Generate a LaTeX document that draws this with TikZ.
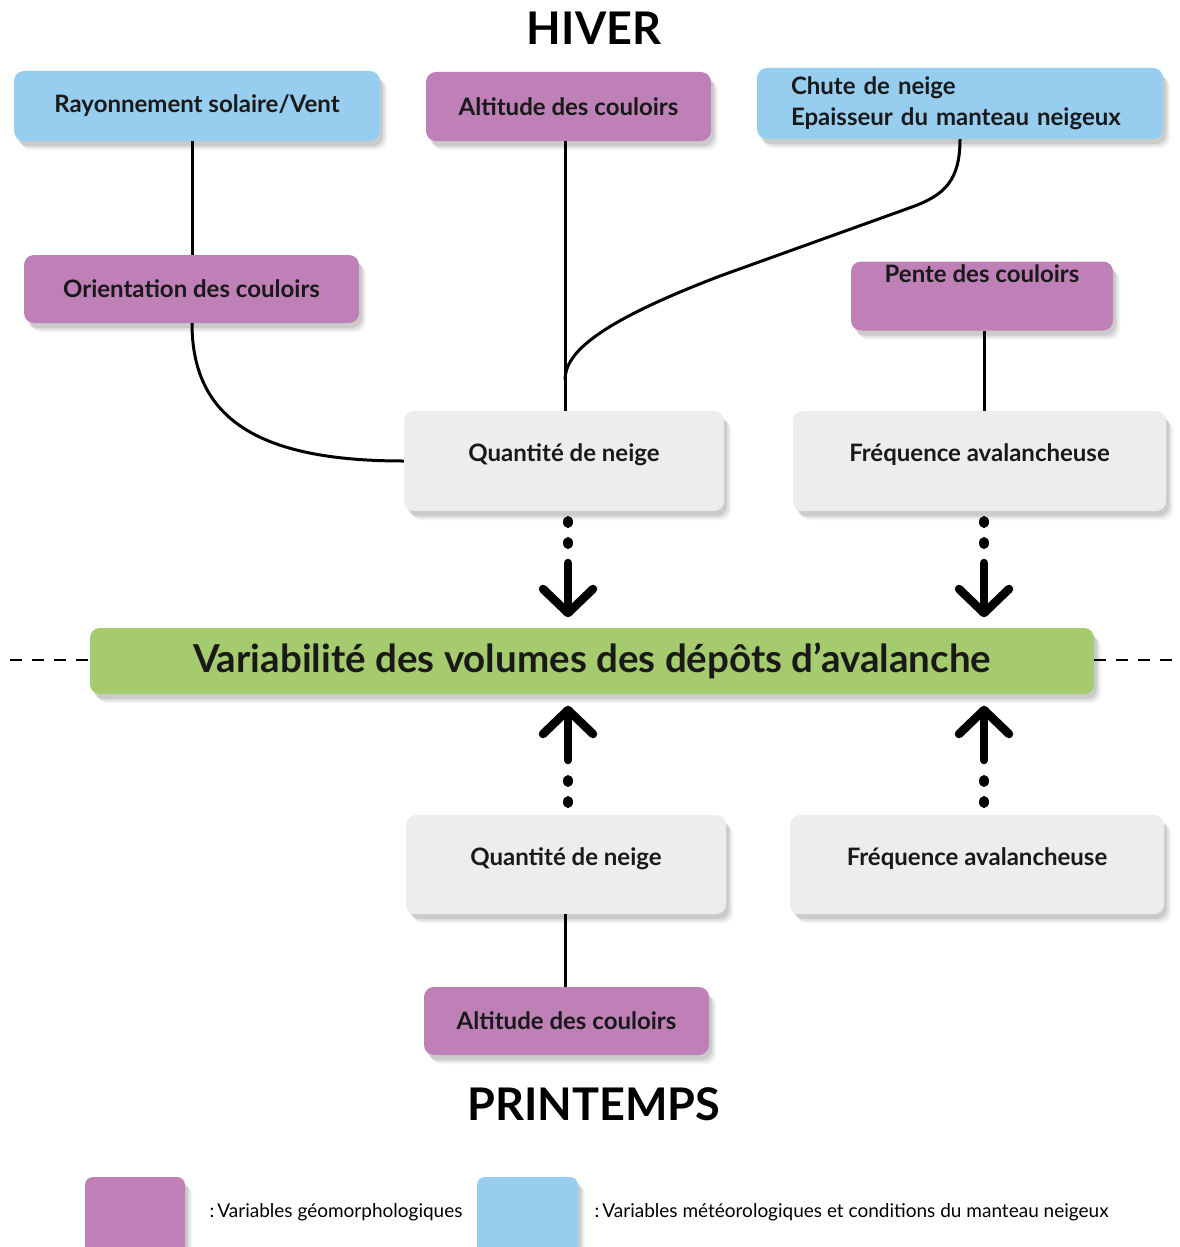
\documentclass[tikz,border=0pt]{standalone}
\usepackage{fontspec}
\setmainfont{Lato}
\usetikzlibrary{shadows,calc}
\definecolor{cblue}{HTML}{97CEF0}
\definecolor{cpurple}{HTML}{BE80B7}
\definecolor{cgreen}{HTML}{A6CA6E}
\definecolor{cgrey}{HTML}{EDEDED}
\tikzset{
  softshadow/.style={
    general shadow={shadow xshift=7pt,shadow yshift=-9pt,fill=black,opacity=0.05},
    general shadow={shadow xshift=5pt,shadow yshift=-7pt,fill=black,opacity=0.07},
    general shadow={shadow xshift=3pt,shadow yshift=-5pt,fill=black,opacity=0.09}},
  box/.style={rounded corners=10pt, softshadow, inner sep=0pt, font=\fontsize{24}{28}\selectfont\bfseries, text=black!90},
  bluebox/.style={box, fill=cblue},
  purplebox/.style={box, fill=cpurple},
  greybox/.style={box, fill=cgrey, text height=17pt, text depth=16pt},
  greenbox/.style={box, fill=cgreen, font=\fontsize{38.5}{44}\selectfont\bfseries},
  link/.style={line width=3pt},
  fat/.style={line width=8.5pt, line cap=round, line join=round},
  dot/.style={fill=black},
  title/.style={font=\fontsize{45}{50}\selectfont\bfseries},
  legend/.style={font=\fontsize{19}{22}\selectfont, anchor=west},
}
\begin{document}
\begin{tikzpicture}[x=1pt,y=-1pt]
\useasboundingbox (0,0) rectangle (1180,1247);
\fill[white] (0,0) rectangle (1180,1247);

\node[title] (hiver) at (594,28) {HIVER};
\node[title] (printemps) at (594,1104) {PRINTEMPS};

% top row
\node[bluebox, minimum width=366pt, minimum height=70pt] (ray) at (197,106) {Rayonnement solaire/Vent};
\node[purplebox, minimum width=285pt, minimum height=69pt] (alt1) at (568.5,106.5) {Altitude des couloirs};
\node[bluebox, minimum width=406pt, minimum height=71pt, align=left, text width=338pt, inner xsep=34pt,
  font=\fontsize{24}{31}\selectfont\bfseries] (chute) at (960,103.5) {Chute de neige\\Epaisseur du manteau neigeux};

% second row
\node[purplebox, minimum width=335pt, minimum height=68pt] (orient) at (191.5,289) {Orientation des couloirs};
\node[purplebox, minimum width=262pt, text height=16pt, text depth=43pt, inner ysep=5pt] (pente) at (982,296) {Pente des couloirs};

% hiver grey boxes
\node[greybox, minimum width=320pt, minimum height=100pt] (qh) at (564,461) {Quantité de neige};
\node[greybox, minimum width=373pt, minimum height=100pt] (fh) at (979.5,461) {Fréquence avalancheuse};

% central green
\node[greenbox, minimum width=1004pt, minimum height=66pt] (green) at (592,661) {Variabilité des volumes des dépôts d’avalanche};

% printemps grey boxes
\node[greybox, minimum width=320pt, minimum height=99pt] (qp) at (566,864.5) {Quantité de neige};
\node[greybox, minimum width=374pt, minimum height=99pt] (fp) at (977,864.5) {Fréquence avalancheuse};
\node[purplebox, minimum width=285pt, minimum height=68pt] (alt2) at (566.5,1021) {Altitude des couloirs};

% connectors
\draw[link] (ray.south -| 192,0) -- (orient.north -| 192,0);
\draw[link] (orient.south -| 192,0) .. controls (192,420) and (260,461) .. (qh.west);
\draw[link] (alt1.south -| 565,0) -- (qh.north -| 565,0);
\coordinate (cj) at (565,380);
\draw[link] (chute.south -| 960,0) .. controls (960,180) and (945,195) .. (912,207)
  -- (720,276) .. controls (600,322) and (565,352) .. (cj);
\draw[link] (pente.south -| 984,0) -- (fh.north -| 984,0);
\draw[link] (qp.south -| 565,0) -- (alt2.north -| 565,0);

% dashed horizon
\coordinate (dl) at (10,660);
\coordinate (dr) at (1180,660);
\draw[line width=2pt, dash pattern=on 12pt off 10pt] (dl) -- (green.west |- dl);
\draw[line width=2pt, dash pattern=on 12pt off 10pt] (green.east |- dr) -- (dr);

% arrows down (hiver)
\foreach \x in {568,984}{
  \fill[dot] (\x,522) ellipse (5pt and 6pt);
  \fill[dot] (\x,543) ellipse (5pt and 6pt);
  \draw[fat] (\x,563) -- (\x,611);
  \draw[fat] (\x-25,589) -- (\x,613) -- (\x+25,589);
}
% arrows up (printemps)
\foreach \x in {568,984}{
  \fill[dot] (\x,802) ellipse (5pt and 6pt);
  \fill[dot] (\x,781) ellipse (5pt and 6pt);
  \draw[fat] (\x,760) -- (\x,712);
  \draw[fat] (\x-25,734) -- (\x,710) -- (\x+25,734);
}

% legend
\node[purplebox, minimum width=100pt, minimum height=80pt, rounded corners=8pt] (lp) at (135,1217) {};
\node[legend] (lpt) at (206,1212) {:\,Variables géomorphologiques};
\node[bluebox, minimum width=101pt, minimum height=80pt, rounded corners=8pt] (lb) at (527.5,1217) {};
\node[legend] (lbt) at (591,1212) {:\,Variables météorologiques et conditions du manteau neigeux};
\end{tikzpicture}
\end{document}
